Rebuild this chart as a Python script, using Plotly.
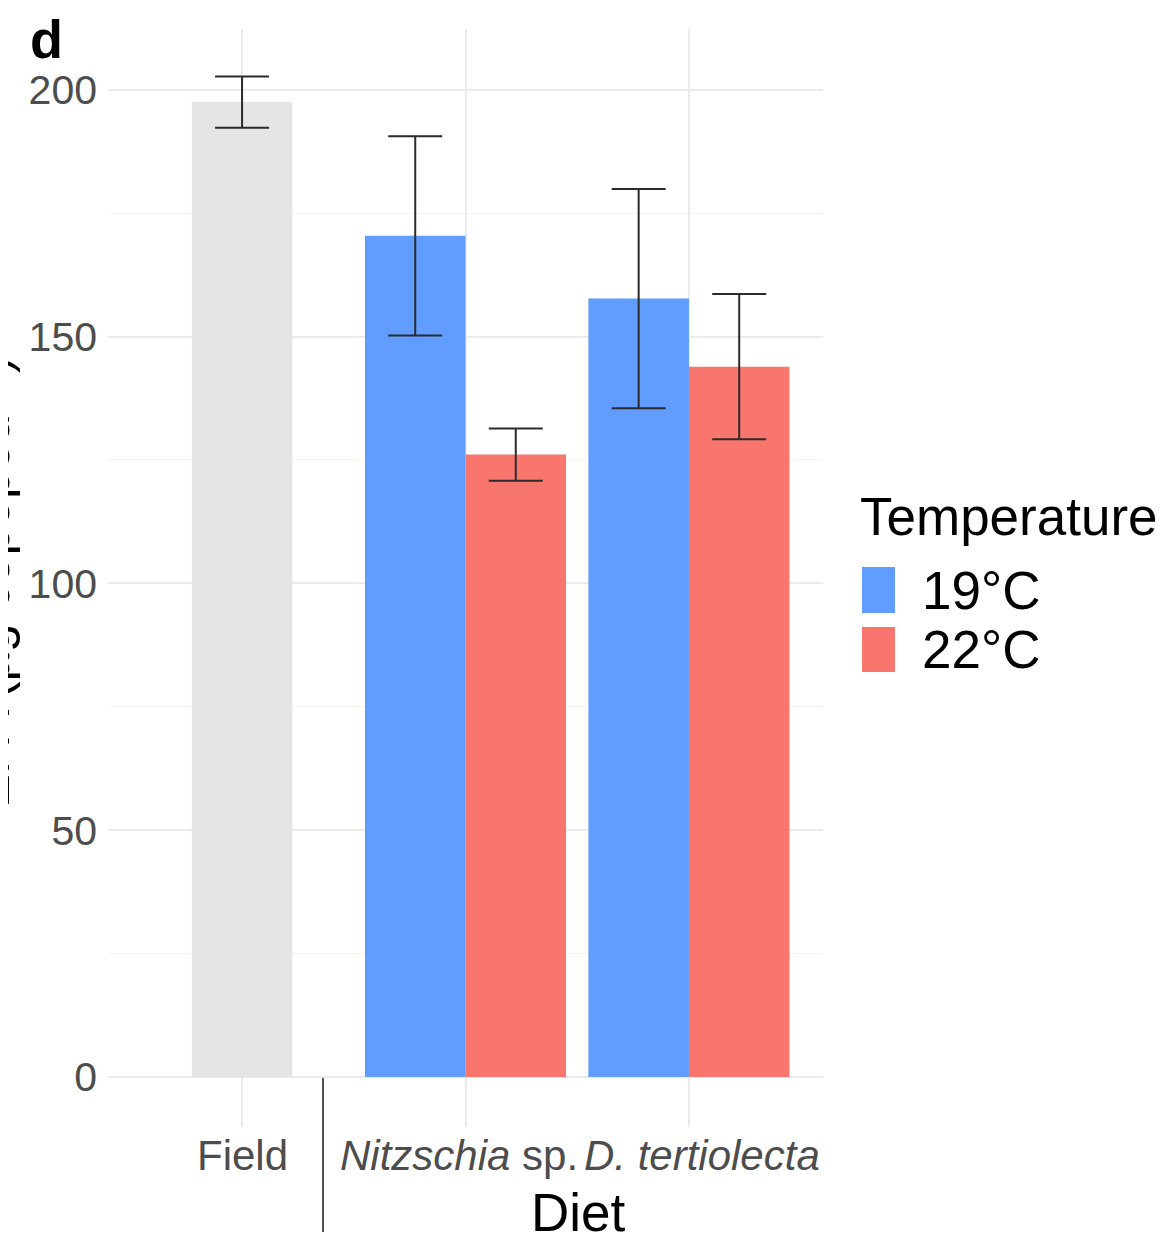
import plotly.graph_objects as go

# ---------------- data ----------------
diets = ["Field", "<i>Nitzschia</i> sp.", "<i>D. tertiolecta</i>"]
field_value = [197.5]
field_err = [5.2]
temps = ["19°C", "22°C"]
temp_colors = ["#619CFF", "#F8766D"]
vals_19 = [170.4, 157.7]
err_19 = [20.2, 22.2]
vals_22 = [126.1, 143.9]
err_22 = [5.3, 14.7]
y_ticks = [0, 50, 100, 150, 200]

# ---------------- layout geometry ----------------
OFF = 8  # page body margin
W, H = 1168 - OFF, 1238 - OFF
L, R, T, B = 108, 823, 29, 1127  # plot area in screen px


def px_x(px):
    return (px - L) / (R - L)


def px_y(py):
    return (B - py) / (B - T)


font_fam = "Liberation Sans, Arial, Helvetica, sans-serif"
dodge = 0.225
bw = 0.45
cat_pos = [1, 2, 3]
label_shift = [0, -7, 13]

fig = go.Figure()
err_style = dict(type="data", visible=True, color="#2b2b2b", thickness=2, width=27)

fig.add_trace(go.Bar(
    x=[cat_pos[0]], y=field_value, width=[bw],
    marker=dict(color="#E5E5E5", line=dict(width=0)),
    error_y=dict(array=field_err, **err_style), showlegend=False, name="Field",
))
fig.add_trace(go.Bar(
    x=[p - dodge for p in cat_pos[1:]], y=vals_19, width=[bw] * 2,
    marker=dict(color=temp_colors[0], line=dict(width=0)),
    error_y=dict(array=err_19, **err_style), showlegend=False, name=temps[0],
))
fig.add_trace(go.Bar(
    x=[p + dodge for p in cat_pos[1:]], y=vals_22, width=[bw] * 2,
    marker=dict(color=temp_colors[1], line=dict(width=0)),
    error_y=dict(array=err_22, **err_style), showlegend=False, name=temps[1],
))

grid_c = "#EBEBEB"
fig.update_layout(
    width=W, height=H,
    margin=dict(l=L - OFF, r=1168 - R, t=T - OFF, b=1238 - B, pad=0),
    paper_bgcolor="white", plot_bgcolor="white",
    barmode="overlay",
    font=dict(family=font_fam, color="#4D4D4D"),
    xaxis=dict(
        range=[0.4, 3.6], tickmode="array", tickvals=cat_pos,
        showticklabels=False, showgrid=True, gridcolor=grid_c, gridwidth=1.5,
        zeroline=False, showline=False, ticks="",
    ),
    yaxis=dict(
        range=[-10.11, 212.3], tickmode="array", tickvals=y_ticks,
        showgrid=True, gridcolor=grid_c, gridwidth=1.5,
        minor=dict(dtick=25, tick0=0, showgrid=True, gridcolor="#F3F3F3", gridwidth=1),
        zeroline=False, showline=False, ticks="",
        tickfont=dict(size=41, color="#4D4D4D", family=font_fam),
        ticklabelstandoff=10,
    ),
)

shapes = []
annotations = []

# x tick labels
for pos, lab, sh in zip(cat_pos, diets, label_shift):
    annotations.append(dict(text=lab, xref="x", yref="paper", x=pos, xshift=sh,
                            y=px_y(1155), xanchor="center", yanchor="middle",
                            showarrow=False, font=dict(size=42, color="#4D4D4D", family=font_fam)))

# separator between Field and cultured diets
shapes.append(dict(type="line", xref="paper", yref="paper",
                   x0=px_x(323), x1=px_x(323), y0=px_y(1078), y1=px_y(1232),
                   line=dict(color="#555555", width=2)))

# axis title "Diet"
annotations.append(dict(text="Diet", xref="paper", yref="paper",
                        x=px_x(578), y=px_y(1212), xanchor="center", yanchor="middle",
                        showarrow=False, font=dict(size=53, color="black", family=font_fam)))

# panel tag
annotations.append(dict(text="<b>d</b>", xref="paper", yref="paper",
                        x=px_x(28), y=px_y(39), xanchor="left", yanchor="middle",
                        showarrow=False, font=dict(size=54, color="black", family=font_fam)))

# y-axis title (mostly cut off at the left edge, as in the reference)
annotations.append(dict(text="EPA (µg copepod<sup>−1</sup>)", xref="paper", yref="paper",
                        x=px_x(22), y=px_y(582), xanchor="right", yanchor="middle",
                        textangle=-90, showarrow=False,
                        font=dict(size=51, color="black", family=font_fam)))

# manual legend
annotations.append(dict(text="Temperature", xref="paper", yref="paper",
                        x=px_x(858), y=px_y(516), xanchor="left", yanchor="middle",
                        showarrow=False, font=dict(size=53, color="black", family=font_fam)))
legend_rows = [(567, 613), (627, 672)]
for name, col, (y0, y1) in zip(temps, temp_colors, legend_rows):
    shapes.append(dict(type="rect", xref="paper", yref="paper",
                       x0=px_x(862), x1=px_x(895), y0=px_y(y1), y1=px_y(y0),
                       fillcolor=col, line=dict(width=0)))
    annotations.append(dict(text=name, xref="paper", yref="paper",
                            x=px_x(920), y=px_y((y0 + y1) / 2), xanchor="left", yanchor="middle",
                            showarrow=False, font=dict(size=53, color="black", family=font_fam)))

fig.update_layout(shapes=shapes, annotations=annotations)
fig.write_html("out.html")
